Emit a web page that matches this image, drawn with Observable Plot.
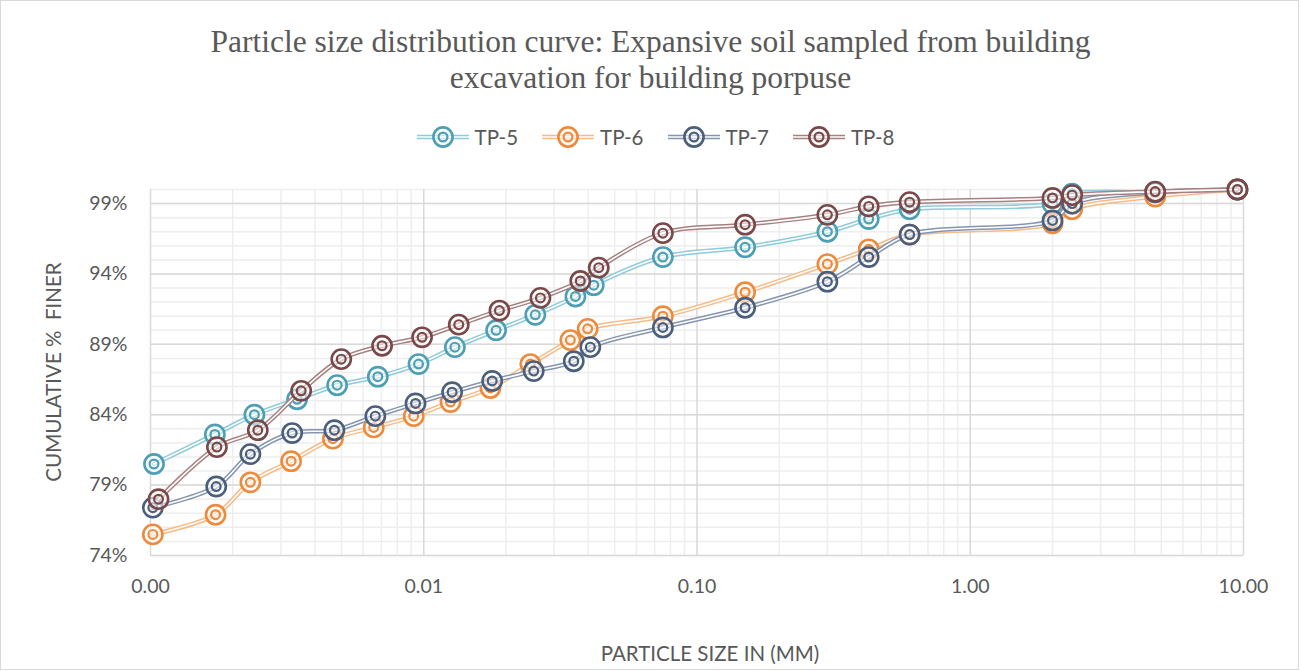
<!DOCTYPE html>
<html>
<head>
<meta charset="utf-8">
<script src="https://cdn.jsdelivr.net/npm/d3@7"></script>
<script src="https://cdn.jsdelivr.net/npm/@observablehq/plot@0.6"></script>
<style>
  body { margin: 0; background: #fff; }
  #chart { position: relative; width: 1301px; height: 671px; overflow: hidden;
           font-family: Lato, "Open Sans", sans-serif; color: #595959; }
  #frame { position: absolute; left: 0; top: 0; width: 1297px; height: 668px; border: 1px solid #d9d9d9; }
  #plot { position: absolute; left: 0; top: 0; }
  #title { position: absolute; left: 0; top: 24px; width: 1301px; text-align: center;
           font-family: "Liberation Serif", "Times New Roman", serif; font-size: 31.5px; line-height: 36px; color: #595959; }
  #legend { position: absolute; left: 5px; top: 125px; width: 1301px; height: 24px;
            display: flex; justify-content: center; align-items: center; gap: 24px; font-size: 20.5px; }
  .item { display: flex; align-items: center; gap: 6px; }
  #ytitle { position: absolute; left: 53px; top: 372px; transform: translate(-50%, -50%) rotate(-90deg);
            white-space: pre; font-size: 20.5px; }
  #xtitle { position: absolute; left: 710px; top: 653px; transform: translate(-50%, -50%);
            white-space: pre; font-size: 20.5px; }
</style>
</head>
<body>
<div id="chart">
  <div id="frame"></div>
  <div id="plot"></div>
  <div id="title">Particle size distribution curve: Expansive soil sampled from building<br>excavation for building porpuse</div>
  <div id="legend"></div>
  <div id="ytitle">CUMULATIVE %  FINER</div>
  <div id="xtitle">PARTICLE SIZE IN (MM)</div>
</div>
<script>
// Test pits
const series = ["TP-5", "TP-6", "TP-7", "TP-8"];
const markerColors = ["#4d9fb3", "#ee8a3c", "#4b5f7d", "#7a4848"];
const lineColors = ["#8fcbdb", "#f8bb88", "#8595b0", "#a88080"];

// Sieve openings (mm), shared by all test pits
const sieveSizes = [0.075, 0.15, 0.3, 0.425, 0.6, 2.0, 2.36, 4.75, 9.5];

// Hydrometer particle diameters (mm), per test pit
const hydroTP5 = [0.00103, 0.00172, 0.0024, 0.00344, 0.00482, 0.00679, 0.00957, 0.0130, 0.0184, 0.0256, 0.0359, 0.0419];
const hydroTP6 = [0.00102, 0.00173, 0.00232, 0.00327, 0.00465, 0.00656, 0.00919, 0.01253, 0.01754, 0.02456, 0.0344, 0.0398];
const hydroTP7 = [0.00102, 0.00174, 0.00232, 0.00330, 0.00471, 0.00665, 0.00933, 0.0127, 0.0178, 0.02526, 0.0354, 0.0407];
const hydroTP8 = [0.00107, 0.00175, 0.00247, 0.00356, 0.00499, 0.00704, 0.00986, 0.01343, 0.01892, 0.02673, 0.0374, 0.0437];

// Cumulative percent finer (hydrometer readings followed by sieve results)
const finerTP5 = [80.5, 82.6, 84.0, 85.1, 86.1, 86.7, 87.6, 88.8, 90.0, 91.1, 92.4, 93.2, 95.2, 95.9, 97.0, 97.9, 98.6, 99.0, 99.7, 99.8, 100];
const finerTP6 = [75.5, 76.9, 79.2, 80.7, 82.3, 83.1, 83.9, 84.9, 85.9, 87.6, 89.3, 90.1, 91.0, 92.7, 94.7, 95.75, 96.8, 97.6, 98.6, 99.5, 100];
const finerTP7 = [77.4, 78.9, 81.2, 82.7, 82.9, 83.9, 84.8, 85.6, 86.4, 87.1, 87.8, 88.8, 90.2, 91.6, 93.45, 95.2, 96.8, 97.8, 99.0, 99.8, 100];
const finerTP8 = [78.0, 81.7, 82.9, 85.7, 87.95, 88.9, 89.5, 90.4, 91.4, 92.3, 93.5, 94.45, 96.9, 97.5, 98.2, 98.8, 99.1, 99.4, 99.6, 99.85, 100];

// Axis ticks
const xTicks = [0.001, 0.01, 0.1, 1, 10];
const yTicks = [74, 79, 84, 89, 94, 99];

const hydro = [hydroTP5, hydroTP6, hydroTP7, hydroTP8];
const finer = [finerTP5, finerTP6, finerTP7, finerTP8];

// Minor gridlines: every 1 % and 2..9 within each decade
const minorY = d3.range(74, 101, 1);
const minorX = xTicks.slice(0, -1).flatMap(d => d3.range(2, 10).map(k => d * k));

const gridMinor = "#eeeeee";
const gridMajor = "#d9d9d9";

// Marker geometry: outer ring plus inner ring
const ringOuter = { r: 9.6, strokeWidth: 2.6 };
const ringInner = { r: 4.4, strokeWidth: 2.2 };

const seriesMarks = series.flatMap((name, i) => {
  const sizes = hydro[i].concat(sieveSizes);
  const rows = sizes.map((s, j) => ({ size: s, finer: finer[i][j], pit: name }));
  const xy = { x: "size", y: "finer" };
  return [
    Plot.line(rows, { ...xy, stroke: lineColors[i], strokeWidth: 4.6, curve: "catmull-rom" }),
    Plot.line(rows, { ...xy, stroke: "#ffffff", strokeWidth: 1.6, curve: "catmull-rom" }),
    Plot.dot(rows, { ...xy, ...ringOuter, stroke: markerColors[i], fill: "#ffffff", fillOpacity: 0.55 }),
    Plot.dot(rows, { ...xy, ...ringInner, stroke: markerColors[i], fill: "none" })
  ];
});

const chart = Plot.plot({
  width: 1301,
  height: 671,
  marginLeft: 150,
  marginRight: 58,
  marginTop: 189,
  marginBottom: 116,
  x: { type: "log", domain: [0.001, 10] },
  y: { domain: [74, 100] },
  style: { fontFamily: "Lato, 'Open Sans', sans-serif", fontSize: "19.5px", color: "#595959", background: "transparent", overflow: "visible" },
  marks: [
    Plot.ruleY(minorY, { stroke: gridMinor, strokeWidth: 1.5 }),
    Plot.ruleX(minorX, { stroke: gridMinor, strokeWidth: 1.5 }),
    Plot.ruleY(yTicks, { stroke: gridMajor, strokeWidth: 1.5 }),
    Plot.ruleX(xTicks, { stroke: gridMajor, strokeWidth: 1.5 }),
    Plot.axisX(xTicks, { tickSize: 0, tickPadding: 24, tickFormat: d3.format(".2f"), label: null }),
    Plot.axisY(yTicks, { tickSize: 0, tickPadding: 23, tickFormat: d => d + "%", label: null }),
    ...seriesMarks
  ]
});
document.getElementById("plot").appendChild(chart);

// Legend: double line with the double-ring marker, then the pit name
const legend = d3.select("#legend");
series.forEach((name, i) => {
  const item = legend.append("div").attr("class", "item");
  const sw = item.append("svg").attr("width", 52).attr("height", 24);
  sw.append("line").attr("x1", 0).attr("x2", 52).attr("y1", 12).attr("y2", 12)
    .attr("stroke", lineColors[i]).attr("stroke-width", 4.6);
  sw.append("line").attr("x1", 0).attr("x2", 52).attr("y1", 12).attr("y2", 12)
    .attr("stroke", "#fff").attr("stroke-width", 1.6);
  sw.append("circle").attr("cx", 26).attr("cy", 12).attr("r", ringOuter.r)
    .attr("stroke", markerColors[i]).attr("stroke-width", ringOuter.strokeWidth).attr("fill", "#fff").attr("fill-opacity", 0.55);
  sw.append("circle").attr("cx", 26).attr("cy", 12).attr("r", ringInner.r)
    .attr("stroke", markerColors[i]).attr("stroke-width", ringInner.strokeWidth).attr("fill", "none");
  item.append("span").text(name);
});
</script>
</body>
</html>
